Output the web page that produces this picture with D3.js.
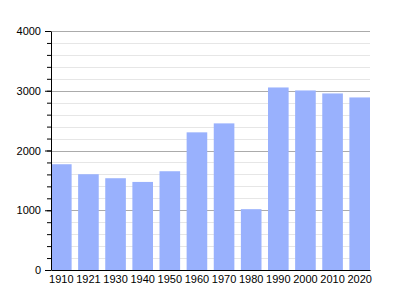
<!DOCTYPE html>
<html>
<head>
<meta charset="utf-8">
<script src="https://cdn.jsdelivr.net/npm/d3@7"></script>
<style>
  body { margin: 0; background: #fff; }
  svg { display: block; }
</style>
</head>
<body>
<div id="chart"></div>
<script>
// Data
var years = ['1910', '1921', '1930', '1940', '1950', '1960', '1970', '1980', '1990', '2000', '2010', '2020'];
var population = [1770, 1603, 1536, 1474, 1653, 2304, 2454, 1018, 3055, 3005, 2955, 2888];
var majorTicks = [0, 1000, 2000, 3000, 4000];

var attrs = {
  svgWidth: 400,
  svgHeight: 300,
  marginLeft: 51,
  marginRight: 30,
  marginTop: 31,
  marginBottom: 30,
  barColor: '#99b1fd',
  majorGrid: '#ababab',
  minorGrid: '#e6e6e6',
  font: '"Liberation Sans", Arial, sans-serif'
};

var chartWidth = attrs.svgWidth - attrs.marginLeft - attrs.marginRight;
var chartHeight = attrs.svgHeight - attrs.marginTop - attrs.marginBottom;

var svg = d3.select('#chart').append('svg')
  .attr('width', attrs.svgWidth)
  .attr('height', attrs.svgHeight)
  .attr('font-family', attrs.font);

var chart = svg.append('g')
  .attr('transform', 'translate(' + attrs.marginLeft + ',' + attrs.marginTop + ')');

var xScale = d3.scaleBand()
  .domain(years)
  .range([0, chartWidth])
  .paddingInner(0.24)
  .paddingOuter(0);

var yScale = d3.scaleLinear()
  .domain([0, 4000])
  .range([chartHeight, 0]);

var minorTicks = d3.range(0, 4001, 200);

// minor grid
chart.selectAll('.minor-grid')
  .data(minorTicks.filter(d => d % 1000 !== 0))
  .enter().append('line')
  .attr('class', 'minor-grid')
  .attr('x1', 0).attr('x2', chartWidth)
  .attr('y1', d => Math.round(yScale(d)) + 0.5)
  .attr('y2', d => Math.round(yScale(d)) + 0.5)
  .attr('stroke', attrs.minorGrid);

// major grid
chart.selectAll('.major-grid')
  .data(majorTicks.filter(d => d > 0))
  .enter().append('line')
  .attr('class', 'major-grid')
  .attr('x1', 0).attr('x2', chartWidth)
  .attr('y1', d => Math.round(yScale(d)) + 0.5)
  .attr('y2', d => Math.round(yScale(d)) + 0.5)
  .attr('stroke', attrs.majorGrid);

// bars
chart.selectAll('.bar')
  .data(population)
  .enter().append('rect')
  .attr('class', 'bar')
  .attr('x', (d, i) => xScale(years[i]))
  .attr('width', xScale.bandwidth())
  .attr('y', d => yScale(d))
  .attr('height', d => chartHeight - yScale(d))
  .attr('fill', attrs.barColor);

// y axis (minor ticks)
chart.append('g')
  .call(d3.axisLeft(yScale).tickValues(minorTicks).tickSize(4).tickFormat(''))
  .call(g => g.select('.domain').remove());

// y axis (major ticks + labels)
var yAxis = chart.append('g')
  .call(d3.axisLeft(yScale).tickValues(majorTicks).tickSize(6).tickPadding(4)
    .tickSizeOuter(0).tickFormat(d3.format('d')));
yAxis.selectAll('text').attr('font-size', 11).attr('fill', '#000').attr('font-family', attrs.font);
yAxis.selectAll('line, path').attr('stroke', '#000');

// x axis
var xAxis = chart.append('g')
  .attr('transform', 'translate(0,' + chartHeight + ')')
  .call(d3.axisBottom(xScale).tickSize(0).tickPadding(5).tickSizeOuter(0));
xAxis.selectAll('text').attr('font-size', 11).attr('fill', '#000').attr('font-family', attrs.font);
xAxis.select('.domain').attr('stroke', '#000');
</script>
</body>
</html>
